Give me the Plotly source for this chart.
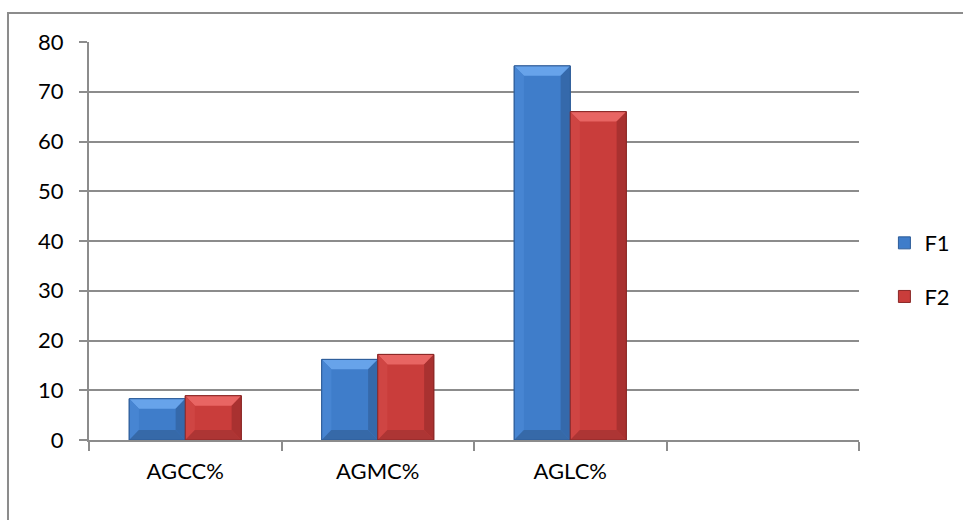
import plotly.graph_objects as go

# Series values per category (the fourth slot is an empty category)
categories = ["AGCC%", "AGMC%", "AGLC%", " "]
f1_values = [8.3, 16.2, 75.2, None]
f2_values = [8.9, 17.2, 66.0, None]
series_names = ["F1", "F2"]
y_ticks = [0, 10, 20, 30, 40, 50, 60, 70, 80]

FONT = "Lato, 'Noto Sans', sans-serif"
GRID = "#8c8c8c"

# face, light (top/left bevel), dark (right/bottom bevel), outline
palette = {
    "F1": dict(face="#3f7dca", top="#67a3ea", left="#4785d2", right="#3569ab", bottom="#3669a8", line="#2d5c98"),
    "F2": dict(face="#c93d3b", top="#e86563", left="#cf4543", right="#a93130", bottom="#ad3534", line="#8a2726"),
}

BARGAP = 0.418
group_w = 1 - BARGAP
bar_w = group_w / 2

fig = go.Figure()
for name, vals in zip(series_names, [f1_values, f2_values]):
    c = palette[name]
    fig.add_trace(go.Bar(
        name=name, x=categories, y=vals,
        marker=dict(color=c["face"], line=dict(color=c["line"], width=1)),
        legendgroup=name,
    ))

# Bevel facets over each bar, derived from the bar values
shapes = []
bev_x = 0.05   # category units
bev_y = 2.0    # data units
for j, (name, vals) in enumerate(zip(series_names, [f1_values, f2_values])):
    c = palette[name]
    for i, v in enumerate(vals):
        if v is None:
            continue
        x0 = i - group_w / 2 + j * bar_w
        x1 = x0 + bar_w
        by = min(bev_y, v / 3)
        facets = [
            (c["top"], [(x0, v), (x1, v), (x1 - bev_x, v - by), (x0 + bev_x, v - by)]),
            (c["left"], [(x0, 0), (x0, v), (x0 + bev_x, v - by), (x0 + bev_x, by)]),
            (c["right"], [(x1, 0), (x1, v), (x1 - bev_x, v - by), (x1 - bev_x, by)]),
            (c["bottom"], [(x0, 0), (x1, 0), (x1 - bev_x, by), (x0 + bev_x, by)]),
        ]
        for col, pts in facets:
            path = "M " + " L ".join(f"{px},{py}" for px, py in pts) + " Z"
            shapes.append(dict(type="path", path=path, xref="x", yref="y",
                               fillcolor=col, line=dict(width=0), layer="above"))
        # thin outline around the whole bar
        shapes.append(dict(type="rect", xref="x", yref="y", x0=x0, x1=x1, y0=0, y1=v,
                           line=dict(color=c["line"], width=1), layer="above"))

# outer frame of the chart area
shapes.append(dict(type="rect", xref="paper", yref="paper",
                   x0=-0.1052, x1=1.3, y0=-0.4, y1=1.0729,
                   line=dict(color=GRID, width=2), fillcolor="rgba(0,0,0,0)", layer="below"))

fig.update_layout(
    width=963, height=520,
    margin=dict(l=89, r=104, t=42, b=80, autoexpand=False),
    paper_bgcolor="white", plot_bgcolor="white",
    barmode="group", bargap=BARGAP, bargroupgap=0,
    font=dict(family=FONT, size=22, color="#000000"),
    shapes=shapes,
    showlegend=True,
    legend=dict(x=1.033, y=0.427, xanchor="left", yanchor="middle",
                font=dict(size=22), tracegroupgap=22, itemwidth=30,
                bgcolor="rgba(0,0,0,0)"),
    xaxis=dict(
        type="category", categoryorder="array", categoryarray=categories,
        range=[-0.5, 3.5], showgrid=False,
        showline=True, linecolor=GRID, linewidth=2,
        ticks="outside", tickson="boundaries", ticklen=9, tickwidth=2, tickcolor=GRID,
        ticklabelstandoff=11,
    ),
    yaxis=dict(
        range=[0, 80], tickvals=y_ticks,
        showgrid=True, gridcolor=GRID, gridwidth=2,
        showline=True, linecolor=GRID, linewidth=2,
        ticks="outside", ticklen=8, tickwidth=2, tickcolor=GRID,
        ticklabelstandoff=11, zeroline=False,
    ),
)

fig.write_html("out.html")
